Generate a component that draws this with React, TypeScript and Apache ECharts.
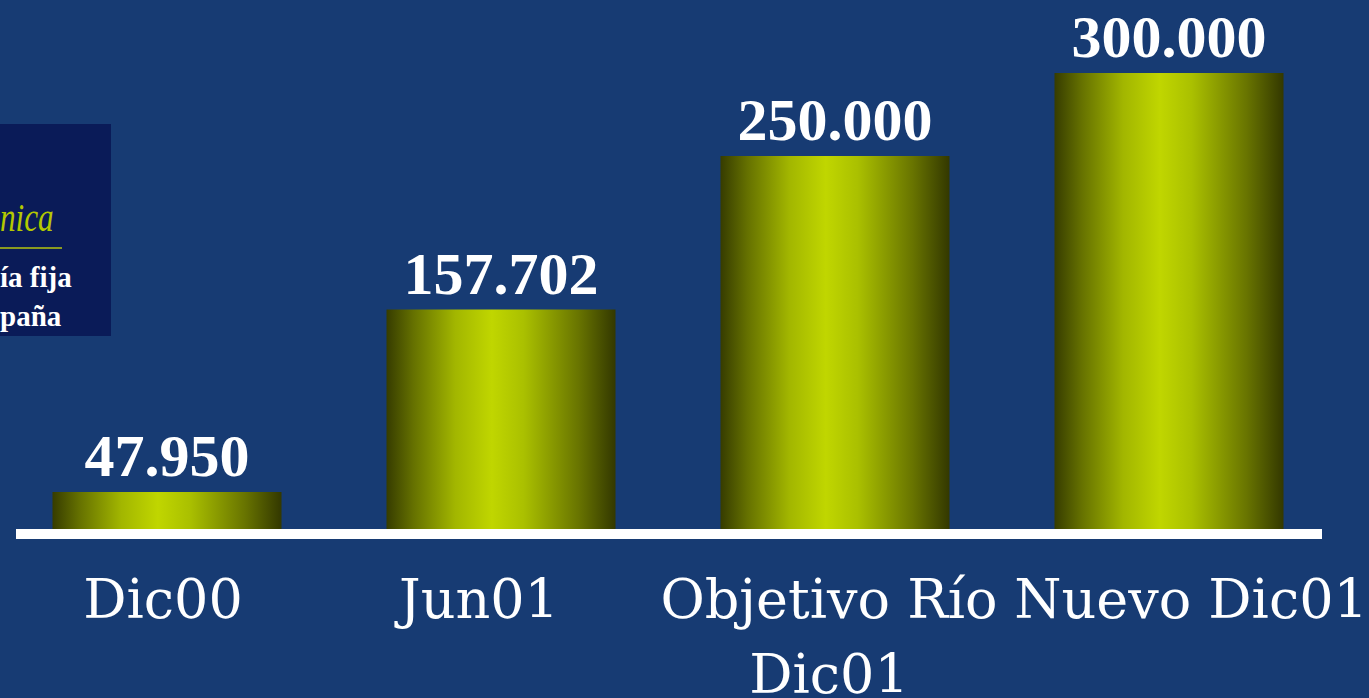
import React, { useEffect, useRef } from "react";
import * as echarts from "echarts";

const categories = ["Dic00", "Jun01", "Objetivo Río\nDic01", "Nuevo Dic01"];
const values = [47950, 157702, 250000, 300000];
const valueLabels = ["47.950", "157.702", "250.000", "300.000"];
const logoLines = ["nica", "ía fija", "paña"];

const BG = "#173b73";
const SERIF = "'Liberation Serif', 'DejaVu Serif', serif";
const WIDE_SERIF = "'DejaVu Serif', 'Liberation Serif', serif";
// label paddings (style only) to nudge category labels like the original slide
const labelPadding = [
  [0, 8, 0, 0],
  [0, 44, 0, 0],
  [0, 12, 0, 0],
  [0, 0, 0, 44],
];

export default function App() {
  const ref = useRef<HTMLDivElement>(null);
  useEffect(() => {
    document.body.style.margin = "0";
    document.body.style.background = BG;
    const chart = echarts.init(ref.current!, null, { renderer: "svg" });
    const barGradient = new echarts.graphic.LinearGradient(0, 0, 1, 0, [
      { offset: 0, color: "#363c00" },
      { offset: 0.12, color: "#667200" },
      { offset: 0.3, color: "#a2b600" },
      { offset: 0.46, color: "#c0d600" },
      { offset: 0.6, color: "#aac000" },
      { offset: 0.84, color: "#687400" },
      { offset: 1, color: "#333800" },
    ]);
    chart.setOption({
      animation: false,
      backgroundColor: BG,
      grid: {
        left: 0,
        right: 33,
        top: 73,
        height: 461,
        containLabel: false,
        outerBoundsMode: "none",
      },
      xAxis: {
        type: "category",
        data: categories.map((c, i) => ({
          value: c,
          textStyle: { padding: labelPadding[i] },
        })),
        axisLine: { show: false },
        axisTick: { show: false },
        splitLine: { show: false },
        axisLabel: {
          interval: 0,
          hideOverlap: false,
          color: "#ffffff",
          fontFamily: WIDE_SERIF,
          fontSize: 54,
          lineHeight: 75,
          margin: 28,
          verticalAlign: "top",
        },
      },
      yAxis: {
        type: "value",
        min: 22700,
        max: 300000,
        show: false,
        splitLine: { show: false },
      },
      series: [
        {
          type: "bar",
          data: values,
          barWidth: 229,
          itemStyle: { color: barGradient },
          label: {
            show: true,
            position: "top",
            distance: 6,
            color: "#ffffff",
            fontFamily: SERIF,
            fontWeight: "bold",
            fontSize: 60,
            formatter: (p: any) => valueLabels[p.dataIndex],
          },
        },
      ],
      graphic: [
        {
          type: "rect",
          z: 100,
          shape: { x: 16, y: 529, width: 1306, height: 10 },
          style: { fill: "#ffffff" },
        },
        {
          type: "rect",
          z: 100,
          shape: { x: 0, y: 124, width: 111, height: 212 },
          style: { fill: "#0a1b58" },
        },
        {
          type: "text",
          z: 101,
          x: 0,
          y: 238,
          scaleX: 0.78,
          style: {
            text: logoLines[0],
            fill: "#b4c800",
            font: "italic 40px " + SERIF,
            verticalAlign: "bottom",
          },
        },
        {
          type: "line",
          z: 101,
          shape: { x1: 0, y1: 248, x2: 62, y2: 248 },
          style: { stroke: "#8a9a20", lineWidth: 2 },
        },
        {
          type: "text",
          z: 101,
          x: 0,
          y: 262,
          style: {
            text: logoLines[1],
            fill: "#ffffff",
            font: "bold 29px " + SERIF,
            verticalAlign: "top",
          },
        },
        {
          type: "text",
          z: 101,
          x: 0,
          y: 301,
          style: {
            text: logoLines[2],
            fill: "#ffffff",
            font: "bold 29px " + SERIF,
            verticalAlign: "top",
          },
        },
      ],
    });
    return () => chart.dispose();
  }, []);
  return <div ref={ref} style={{ width: 1369, height: 698, background: BG }} />;
}
